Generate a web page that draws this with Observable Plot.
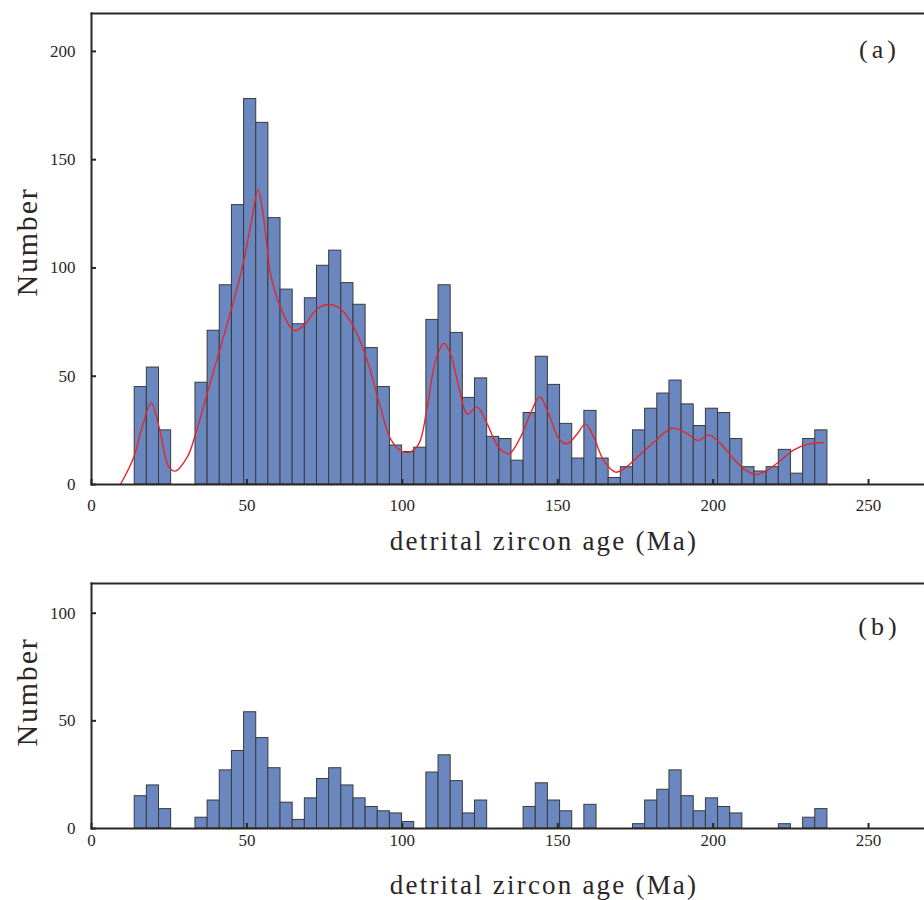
<!DOCTYPE html>
<html><head><meta charset="utf-8">
<script src="https://cdn.jsdelivr.net/npm/d3@7"></script>
<script src="https://cdn.jsdelivr.net/npm/@observablehq/plot@0.6"></script>
<style>
body{margin:0;background:#fff;}
#chart{width:924px;height:900px;overflow:hidden;}
#chart svg{display:block;}
</style></head><body><div id="chart"></div>
<script>
// Histogram bins (Ma)
const ageMin = 13.9;
const binWidth = 3.91;
// (a) counts per bin
const countsA = [45,54,25,0,0,47,71,92,129,178,167,123,90,74,86,101,108,93,83,63,
  45,18,15,17,76,92,70,40,49,22,21,11,33,59,46,28,12,34,12,3,
  8,25,35,42,48,37,27,35,33,21,8,6,8,16,5,21,25];
// (b) counts per bin
const countsB = [15,20,9,0,0,5,13,27,36,54,42,28,12,4,14,23,28,20,14,10,
  8,7,3,0,26,34,22,7,13,0,0,0,10,21,13,8,0,11,0,0,
  0,2,13,18,27,15,8,14,10,7,0,0,0,2,0,5,9];
// (a) probability density curve (scaled)
const kdeAge = [9.3,13.6,16.3,19.2,22,24.9,27,30.8,33.5,37.2,41.5,45.8,49,51.7,53.6,55.2,56.3,57.6,60.8,65.1,
  68.3,72.6,76.4,80.1,84.4,88.7,92.6,96.2,99.4,102.1,105.3,108,110.7,113.4,115.5,118.2,120.9,124.1,127.3,131,
  134.3,138,141.2,144.2,147.1,150.4,153,156.3,158.9,161.6,164.8,168.6,171.3,175.6,180.9,186.8,191.7,195.1,198.6,202.4,
  206.1,209.9,213.6,217.4,221.7,226,230.3,235.6];
const kdeValue = [0,12.6,26.5,37.7,25,8,6.2,12.6,23.4,41.9,63.4,85,103.4,123.4,136.3,125,112,97.3,81.9,71.1,
  73.4,81.1,83.1,81.1,72.6,57.2,37.5,21.1,15.7,14.8,18.8,35.7,57.2,65.2,60.3,44.9,32.6,35.7,28,17.2,
  14.2,21.8,32.6,40.6,32.6,21.1,18.8,23.4,28,21.8,11.1,5.7,7.2,12.6,19.5,26,23.4,20.3,22.9,18.8,
  12.6,7.2,4.6,6.5,11.1,16,18.5,19.4];
const xTicks = [0,50,100,150,200,250];
const yTicksA = [0,50,100,150,200];
const yTicksB = [0,50,100];
const xLabel = "detrital zircon age (Ma)";
const yLabel = "Number";
const panelLabels = ["(a)","(b)"];

const FONT = "'Liberation Serif','Times New Roman',serif";
const INK = "#2b2626";
const BAR = "#6b87c0";

function bins(counts){
  return counts.map((c,i)=>({x1: ageMin + i*binWidth, x2: ageMin + (i+1)*binWidth, y: c})).filter(d=>d.y>0);
}

function panel({counts, yMax, yTicks, height, marginTop, marginBottom, tag, tagDy, kde, ylabDy, xPad}){
  const marks = [
    Plot.rectY(bins(counts), {x1:"x1", x2:"x2", y:"y", fill:BAR, stroke:"#3a3a3a", strokeWidth:1})
  ];
  if (kde) marks.push(Plot.line(kde, {x:"age", y:"v", stroke:"#e0282d", strokeWidth:1.4, curve:"catmull-rom"}));
  marks.push(
    Plot.axisX({ticks:xTicks, tickSize:-5, tickPadding:xPad, tickFormat:d=>String(d), fontSize:17, label:null, stroke:INK, strokeWidth:2, fill:INK}),
    Plot.axisY({ticks:yTicks, tickSize:-5, tickPadding:21, tickFormat:d=>String(d), fontSize:17, label:null, stroke:INK, strokeWidth:2, fill:INK}),
    Plot.frame({anchor:"top", stroke:INK, strokeWidth:2}),
    Plot.frame({anchor:"left", stroke:INK, strokeWidth:2}),
    Plot.frame({anchor:"bottom", stroke:INK, strokeWidth:2}),
    Plot.text([xLabel], {frameAnchor:"bottom", textAnchor:"middle", lineAnchor:"middle", dx:36, dy:57, fontSize:27, fill:INK}),
    Plot.text([yLabel], {frameAnchor:"left", textAnchor:"middle", lineAnchor:"middle", rotate:-90, dx:-64, dy:ylabDy, fontSize:30, fill:INK}),
    Plot.text([tag], {frameAnchor:"top-right", textAnchor:"middle", lineAnchor:"middle", dx:-45, dy:tagDy, fontSize:26, fill:INK})
  );
  const svg = Plot.plot({
    width:924, height, marginLeft:91, marginRight:0, marginTop, marginBottom,
    style:{fontFamily:FONT, background:"white", color:INK},
    x:{domain:[0,268]}, y:{domain:[0,yMax]},
    marks
  });
  const sel = d3.select(svg).selectAll("text");
  sel.filter(function(){ return this.textContent === xLabel; }).attr("letter-spacing","2.2px");
  sel.filter(function(){ return this.textContent === yLabel; }).attr("letter-spacing","1.8px");
  sel.filter(function(){ return this.textContent === tag; }).attr("letter-spacing","4px");
  return svg;
}

const kdeA = kdeAge.map((a,i)=>({age:a, v:kdeValue[i]}));
const root = document.getElementById("chart");
root.appendChild(panel({counts:countsA, yMax:217.5, yTicks:yTicksA, height:560, marginTop:13, marginBottom:76, tag:panelLabels[0], tagDy:36, kde:kdeA, ylabDy:-7, xPad:19}));
root.appendChild(panel({counts:countsB, yMax:113.8, yTicks:yTicksB, height:340, marginTop:23, marginBottom:72, tag:panelLabels[1], tagDy:43, kde:null, ylabDy:-14, xPad:10}));
</script></body></html>
